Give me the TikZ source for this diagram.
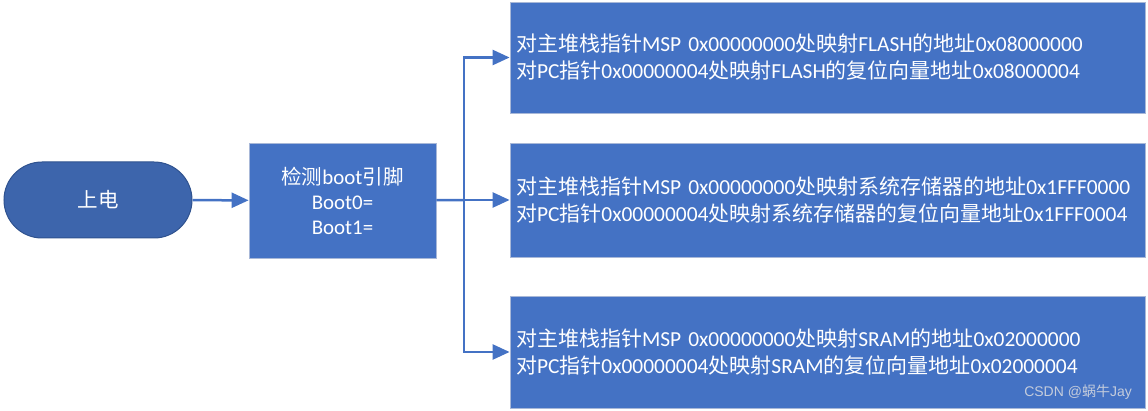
\documentclass[tikz,border=0pt]{standalone}
\usepackage{fontspec}
\setmainfont[Scale=1.02]{Carlito}
\setsansfont{Liberation Sans}
\newfontfamily\cjk{Noto Sans CJK SC}
\usetikzlibrary{arrows.meta}
\definecolor{boxblue}{HTML}{4472C4}
\definecolor{startblue}{HTML}{3D65AC}
\definecolor{startedge}{HTML}{2F528F}
\definecolor{boxedge}{HTML}{A8B8D8}
\definecolor{wmgray}{HTML}{C4CCDC}
\tikzset{
  blk/.style={draw=boxedge, line width=0.8pt, fill=boxblue, text=white, font=\fontsize{21}{27}\selectfont},
  wide/.style={blk, minimum width=635pt, text width=623pt, align=left, inner sep=6pt},
  conn/.style={draw=boxblue, line width=2.5pt},
  arr/.style={conn, -{Triangle[length=17pt,width=15pt]}},
}
\begin{document}
\begin{tikzpicture}[x=1pt,y=-1pt]
\useasboundingbox (0,0) rectangle (1148,411);
\node[draw=startedge, line width=1pt, fill=startblue, text=white, rounded corners=38pt,
      minimum width=188pt, minimum height=76pt, font=\fontsize{20.5}{26}\selectfont]
      (start) at (98,200) {\cjk 上电};
\node[blk, minimum width=187pt, minimum height=115pt, align=center, font=\fontsize{20.5}{25}\selectfont]
      (check) at (342.5,200.5) {{\cjk 检测}boot{\cjk 引脚}\\Boot0=\\Boot1=};
\node[wide, minimum height=111pt] (b1) at (827.5,57.5)
  {{\cjk 对主堆栈指针}MSP 0x00000000{\cjk 处映射}FLASH{\cjk 的地址}0x08000000\\
   {\cjk 对}PC{\cjk 指针}0x00000004{\cjk 处映射}FLASH{\cjk 的复位向量地址}0x08000004};
\node[wide, minimum height=114pt] (b2) at (827.5,200)
  {{\cjk 对主堆栈指针}MSP 0x00000000{\cjk 处映射系统存储器的地址}0x1FFF0000\\
   {\cjk 对}PC{\cjk 指针}0x00000004{\cjk 处映射系统存储器的复位向量地址}0x1FFF0004};
\node[wide, minimum height=112pt] (b3) at (827.5,352)
  {{\cjk 对主堆栈指针}MSP 0x00000000{\cjk 处映射}SRAM{\cjk 的地址}0x02000000\\
   {\cjk 对}PC{\cjk 指针}0x00000004{\cjk 处映射}SRAM{\cjk 的复位向量地址}0x02000004};
\node[text=wmgray, font=\sffamily\fontsize{14}{16}\selectfont, anchor=east, inner sep=0pt]
  (wm) at (1132,392) {CSDN @{\cjk 蜗牛}Jay};
\coordinate (jn) at (464,200);
\draw[arr] (start) -- (check);
\draw[conn] (check) -- (jn);
\draw[arr] (jn) |- (b1.west);
\draw[arr] (jn) -- (b2.west);
\draw[arr] (jn) |- (b3.west);
\end{tikzpicture}
\end{document}
